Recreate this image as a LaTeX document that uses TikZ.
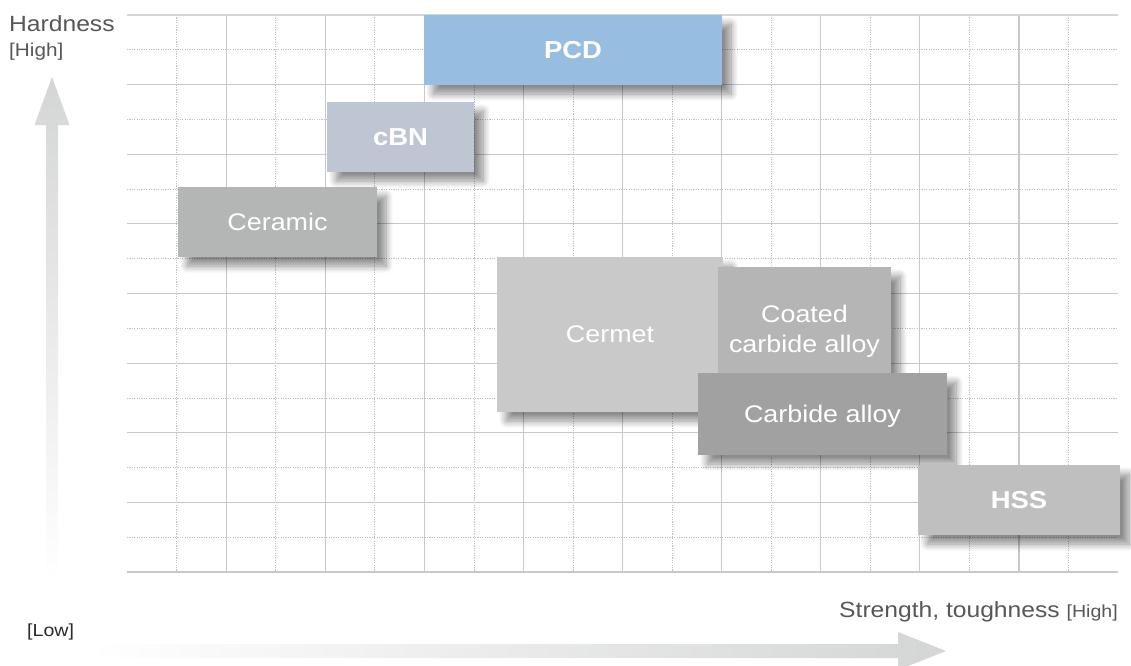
\documentclass[tikz,border=0pt]{standalone}
\usepackage{fontspec}
\setmainfont[FakeStretch=1.12]{Liberation Sans}
\usetikzlibrary{shadows.blur}
\definecolor{pcdc}{HTML}{97BDE0}
\definecolor{cbnc}{HTML}{BEC5D3}
\definecolor{ceramc}{HTML}{B4B6B5}
\definecolor{cermetc}{HTML}{C8C9C8}
\definecolor{coatc}{HTML}{B4B5B4}
\definecolor{carbc}{HTML}{A0A1A0}
\definecolor{hssc}{HTML}{BEBFBE}
\definecolor{gridc}{HTML}{C8C8C8}
\definecolor{topgridc}{HTML}{D6D6D6}
\definecolor{dotc}{HTML}{C2C2C2}
\definecolor{axc}{HTML}{575757}
\definecolor{lowc}{HTML}{2A2A2A}
\definecolor{arrc}{HTML}{D4D5D5}
\begin{document}
\begin{tikzpicture}[x=1pt,y=-1pt,
  box/.style={rectangle, inner sep=0pt, text=white, text depth=0pt,
    font=\fontsize{24}{30}\selectfont,
    blur shadow={shadow xshift=9pt, shadow yshift=-9pt, shadow blur radius=7pt, shadow blur steps=10, shadow opacity=45}},
  boldbox/.style={box, font=\fontsize{24.5}{30}\selectfont\bfseries},
  solidgrid/.style={draw=gridc, line width=1.2pt},
  dotgrid/.style={draw=dotc, line width=0.7pt, dash pattern=on 1.2pt off 1.2pt},
  axislabel/.style={text=axc, inner sep=0pt}]
\useasboundingbox (0,0) rectangle (1131,665);
% grid
\foreach \k in {1,3,...,15} \draw[dotgrid] (127,15+\k*34.8125) -- (1118,15+\k*34.8125);
\foreach \i in {1,3,...,19} \draw[dotgrid] (127+\i*49.55,15) -- (127+\i*49.55,572);
\foreach \k in {2,4,...,16} \draw[solidgrid] (127,15+\k*34.8125) -- (1118,15+\k*34.8125);
\foreach \i in {2,4,...,18} \draw[solidgrid] (127+\i*49.55,15) -- (127+\i*49.55,572);
\draw[draw=topgridc, line width=2pt] (127,15) -- (1118,15);
% arrows
\shade[top color=arrc, bottom color=white] (52,77) -- (69.5,125) -- (58,125) -- (58,580) -- (46,580) -- (46,125) -- (34.5,125) -- cycle;
\shade[left color=white, right color=arrc] (88,644) -- (898,644) -- (898,632) -- (946,651) -- (898,670) -- (898,658) -- (88,658) -- cycle;
% boxes
\node[boldbox, fill=pcdc, minimum width=298pt, minimum height=70pt] (pcd) at (573,50) {PCD};
\node[boldbox, fill=cbnc, minimum width=147pt, minimum height=70pt] (cbn) at (400.5,137) {cBN};
\node[box, fill=ceramc, minimum width=199pt, minimum height=70pt] (ceramic) at (277.5,222) {Ceramic};
\node[box, fill=cermetc, minimum width=226pt, minimum height=155pt] (cermet) at (610,334.5) {Cermet};
\node[box, fill=coatc, minimum width=173pt, minimum height=123pt, align=center] (coated) at (804.5,328.5) {Coated\\carbide alloy};
\node[box, fill=carbc, minimum width=249pt, minimum height=82pt] (carbide) at (822.5,414) {Carbide alloy};
\node[boldbox, fill=hssc, minimum width=202pt, minimum height=70pt] (hss) at (1019,500) {HSS};
% axis labels
\node[axislabel, anchor=base west, font=\fontsize{22}{26}\selectfont] (hard) at (9,31) {Hardness};
\node[axislabel, anchor=base west, font=\fontsize{18.5}{22}\selectfont] (high) at (9,56.5) {[High]};
\node[anchor=base west, text=lowc, inner sep=0pt, font=\fontsize{17.5}{21}\selectfont] (low) at (27,636) {[Low]};
\node[axislabel, anchor=base east, font=\fontsize{22}{26}\selectfont] (strength) at (1118,617) {Strength, toughness {\fontsize{17.5}{21}\selectfont[High]}};
\end{tikzpicture}
\end{document}
